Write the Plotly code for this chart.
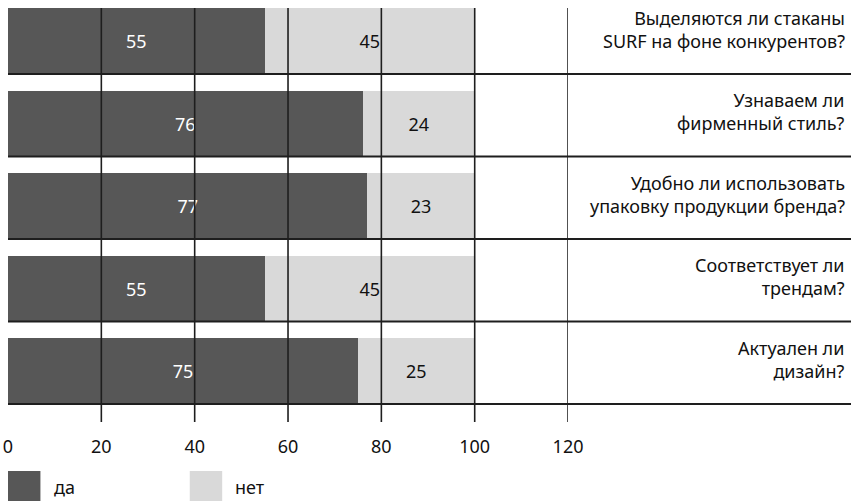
import plotly.graph_objects as go

# Survey questions and answer shares (%)
questions = [
    "Выделяются ли стаканы<br>SURF на фоне конкурентов?",
    "Узнаваем ли<br>фирменный стиль?",
    "Удобно ли использовать<br>упаковку продукции бренда?",
    "Соответствует ли<br>трендам?",
    "Актуален ли<br>дизайн?",
]
yes_share = [55, 76, 77, 55, 75]
no_share = [45, 24, 23, 45, 25]
x_ticks = [0, 20, 40, 60, 80, 100, 120]

DARK = "#575757"
LIGHT = "#d9d9d9"
LINE = "#1e1e1e"
TEXT = "#111111"
FONT = "Noto Sans"
FS = 18

W, H = 866, 501
ML, MR, MT, MB = 8, 0, 8, 79
plot_w = W - ML - MR
plot_h = H - MT - MB
cat_px = 82.5  # pixel height of one category slot

cats = list(range(len(questions)))

fig = go.Figure()
fig.add_trace(go.Bar(
    y=cats, x=yes_share, orientation="h", name="да",
    marker=dict(color=DARK, line=dict(width=0)),
    text=[str(v) for v in yes_share], textposition="inside",
    insidetextanchor="middle", textangle=0,
    textfont=dict(color="#ffffff", size=FS, family=FONT),
    width=0.8, hoverinfo="skip",
))
fig.add_trace(go.Bar(
    y=cats, x=no_share, orientation="h", name="нет",
    marker=dict(color=LIGHT, line=dict(width=0)),
    text=[str(v) for v in no_share], textposition="inside",
    insidetextanchor="middle", textangle=0,
    textfont=dict(color=TEXT, size=FS, family=FONT),
    width=0.8, hoverinfo="skip",
))

x_domain_end = (578 - ML) / plot_w
y_top = -0.4
y_bottom = y_top + plot_h / cat_px

shapes = []
# vertical gridlines drawn over the bars
for t in x_ticks[1:]:
    shapes.append(dict(
        type="line", xref="x", yref="paper",
        x0=t, x1=t, y0=0, y1=1,
        line=dict(color=LINE, width=1.6), layer="above",
    ))
# separator line under each bar, running across the label column too
for c in cats:
    shapes.append(dict(
        type="line", xref="paper", yref="y",
        x0=0, x1=1, y0=c + 0.4, y1=c + 0.4,
        line=dict(color=LINE, width=2), layer="above",
    ))

annotations = []
for c, q in zip(cats, questions):
    annotations.append(dict(
        xref="paper", yref="y", x=1, y=c, xanchor="right", yanchor="middle",
        xshift=-4, yshift=12, text=q, showarrow=False, align="right",
        font=dict(size=FS, color=TEXT, family=FONT),
    ))

# legend swatches and labels
def px_x(px):
    return (px - ML) / plot_w

def px_y(py):
    return (H - MB - py) / plot_h

for x0, x1, col, label, lx in [(8, 41, DARK, "да", 53), (193, 226, LIGHT, "нет", 237)]:
    shapes.append(dict(
        type="rect", xref="paper", yref="paper",
        x0=px_x(x0), x1=px_x(x1), y0=px_y(471), y1=px_y(505),
        fillcolor=col, line=dict(width=0),
    ))
    annotations.append(dict(
        xref="paper", yref="paper", x=px_x(lx), y=px_y(487),
        xanchor="left", yanchor="middle", text=label, showarrow=False,
        font=dict(size=FS, color=TEXT, family=FONT),
    ))

fig.update_layout(
    barmode="stack",
    width=W, height=H,
    margin=dict(l=ML, r=MR, t=MT, b=MB),
    paper_bgcolor="white", plot_bgcolor="white",
    showlegend=False,
    bargap=0.2,
    shapes=shapes,
    annotations=annotations,
    font=dict(family=FONT, size=FS, color=TEXT),
    uniformtext=dict(mode=False),
)
fig.update_xaxes(
    domain=[0, x_domain_end], range=[0, 120],
    tickvals=x_ticks, ticktext=[str(t) for t in x_ticks],
    showgrid=False, zeroline=False, showline=False, ticks="",
    ticklabelstandoff=12,
    tickfont=dict(size=FS, color=TEXT, family=FONT),
)
fig.update_yaxes(
    range=[y_bottom, y_top], showgrid=False, zeroline=False,
    showticklabels=False, showline=False, ticks="",
)

fig.write_html("out.html")
